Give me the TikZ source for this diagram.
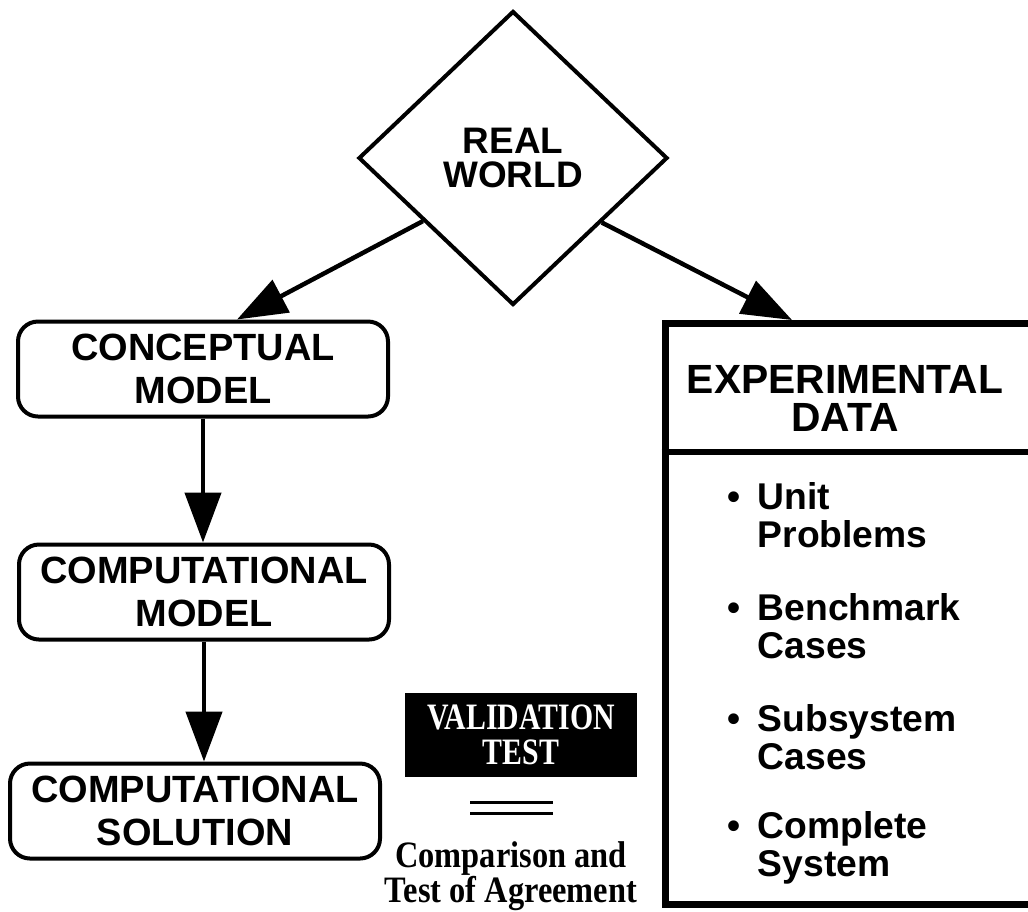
\documentclass[tikz,border=0pt]{standalone}
\usepackage{fontspec}
\usepackage{graphicx}
\setmainfont{Liberation Sans}
\newfontfamily\timesfont{Liberation Serif}
\usetikzlibrary{%
	shapes.geometric,%
	arrows.meta%
}

\begin{document}
\begin{tikzpicture}[x=0.1mm,y=-0.1mm,
	box/.style={draw,line width=0.4mm,rounded corners=2mm,minimum width=37mm,minimum height=9.5mm,align=center,font=\fontsize{10.8}{12.2}\selectfont\bfseries},
	item/.style={anchor=west,inner sep=0pt,align=left,font=\fontsize{10.6}{10.8}\selectfont\bfseries},
	serifbf/.style={align=center,font=\timesfont\bfseries\fontsize{10.6}{10}\selectfont},
	arr/.style={-{Triangle[length=5mm,width=3.6mm]},line width=0.45mm}]
\useasboundingbox (0,0) rectangle (1028,911);
\clip (0,0) rectangle (1028,911);
% Real world
\node (real) [draw,diamond,line width=0.4mm,minimum width=30.9mm,minimum height=29.4mm,inner sep=0pt,align=center,font=\fontsize{10.5}{9.9}\selectfont\bfseries] at (513,158) {REAL\\WORLD};
% Model chain
\node (concept) [box] at (203,369) {CONCEPTUAL\\MODEL};
\node (compmodel) [box] at (204,592) {COMPUTATIONAL\\MODEL};
\node (compsol) [box] at (195,811) {COMPUTATIONAL\\SOLUTION};
\draw [arr] (concept.south) -- (concept.south |- compmodel.north);
\draw [arr] (compmodel.south) -- (compmodel.south |- compsol.north);
% Experimental data
\node (expdata) [draw,line width=0.7mm,minimum width=38mm,minimum height=58.1mm] at (855,614) {};
\node (exphead) [align=center,font=\fontsize{11.6}{10.8}\selectfont\bfseries] at (845,398) {EXPERIMENTAL\\DATA};
\draw [line width=0.6mm] (expdata.west |- 0,452) -- (expdata.east |- 0,452);
\node (unit) [item] at (757,515) {\llap{\textbullet\hspace{5pt}}Unit\\Problems};
\node (bench) [item] at (757,626) {\llap{\textbullet\hspace{5pt}}Benchmark\\Cases};
\node (subsys) [item] at (757,737) {\llap{\textbullet\hspace{5pt}}Subsystem\\Cases};
\node (complete) [item] at (757,848) {\llap{\textbullet\hspace{5pt}}Complete\\System};
% Arrows from the real world
\draw [arr] (real.215) -- ([xshift=3.4mm]concept.north);
\draw [arr] (real.324) -- ([xshift=-6.3mm]expdata.north);
% Validation test
\node (valid) [serifbf,fill=black,text=white,minimum width=23.2mm,minimum height=8mm] at (521,735) {\scalebox{0.8}[1]{VALIDATION}\\\scalebox{0.8}[1]{TEST}};
\draw [line width=0.3mm] (470,802) -- (553,802) (470,813) -- (553,813);
\node (agree) [serifbf] at (511,876) {\scalebox{0.87}[1]{Comparison and}\\\scalebox{0.87}[1]{Test of Agreement}};
\end{tikzpicture}
\end{document}
